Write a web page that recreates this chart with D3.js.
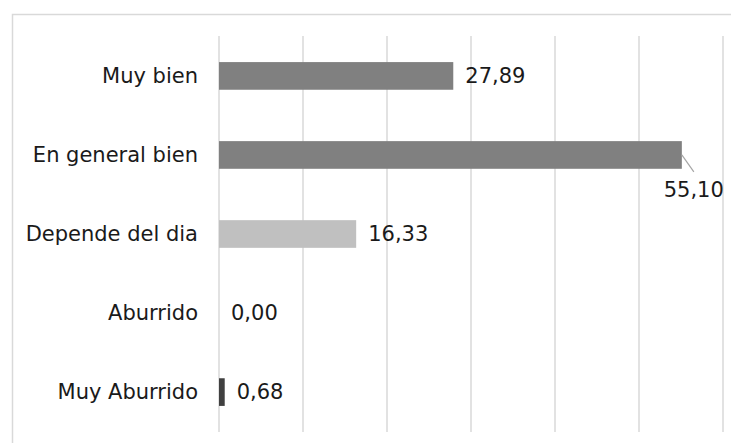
<!DOCTYPE html>
<html>
<head>
<meta charset="utf-8">
<script src="https://cdnjs.cloudflare.com/ajax/libs/d3/7.8.5/d3.min.js"></script>
<style>
body { margin:0; background:#fff; }
text { font-family: Verdana, "DejaVu Sans", sans-serif; fill:#1a1a1a; }
</style>
</head>
<body>
<svg></svg>
<script>
var categories = ["Muy bien","En general bien","Depende del dia","Aburrido","Muy Aburrido"]
var values = [27.89,55.10,16.33,0.00,0.68]
var labels = ["27,89","55,10","16,33","0,00","0,68"]
var colors = ["#808080","#808080","#c0c0c0","#404040","#404040"]
var ticks = [0,10,20,30,40,50,60]

var screen = {width:731,height:443}
var margins = {top:36,left:219,right:9,bottom:11}

var svg = d3.select("svg")
    .attr("width",screen.width)
    .attr("height",screen.height)

// chart frame
svg.append("rect")
    .attr("x",12.5)
    .attr("y",14.5)
    .attr("width",740)
    .attr("height",440)
    .attr("fill","none")
    .attr("stroke","#d9d9d9")
    .attr("stroke-width",1.5)

var xScale = d3.scaleLinear().domain([0,60]).range([margins.left,723])
var yScale = d3.scaleBand().domain(categories).range([margins.top,432]).paddingInner(0.65).paddingOuter(0.33)

var graph = svg.append("g").attr("id","graph")

graph.selectAll("line.grid")
    .data(ticks)
    .enter()
    .append("line")
    .classed("grid",true)
    .attr("x1",function(d){ return xScale(d) })
    .attr("x2",function(d){ return xScale(d) })
    .attr("y1",margins.top)
    .attr("y2",432)
    .attr("stroke","#d9d9d9")
    .attr("stroke-width",1.5)

graph.selectAll("rect.bar")
    .data(values)
    .enter()
    .append("rect")
    .classed("bar",true)
    .attr("x",xScale(0))
    .attr("y",function(d,i){ return yScale(categories[i]) })
    .attr("width",function(d){ return xScale(d)-xScale(0) })
    .attr("height",yScale.bandwidth())
    .attr("fill",function(d,i){ return colors[i] })

// category labels
graph.selectAll("text.cat")
    .data(categories)
    .enter()
    .append("text")
    .classed("cat",true)
    .attr("x",198)
    .attr("y",function(d){ return yScale(d)+yScale.bandwidth()/2 })
    .attr("dy","0.35em")
    .attr("text-anchor","end")
    .attr("font-size",21)
    .text(function(d){ return d })

// value labels, the long bar gets a leader line
graph.selectAll("text.val")
    .data(values)
    .enter()
    .append("text")
    .classed("val",true)
    .attr("x",function(d,i){ return i==1 ? xScale(d)+42 : xScale(d)+12 })
    .attr("y",function(d,i){
        var c = yScale(categories[i])+yScale.bandwidth()/2
        return i==1 ? c+35 : c
    })
    .attr("dy","0.35em")
    .attr("text-anchor",function(d,i){ return i==1 ? "end" : "start" })
    .attr("font-size",21)
    .text(function(d,i){ return labels[i] })

var c1 = yScale(categories[1])+yScale.bandwidth()/2
graph.append("line")
    .attr("x1",xScale(values[1]))
    .attr("y1",c1)
    .attr("x2",xScale(values[1])+12)
    .attr("y2",c1+17)
    .attr("stroke","#a6a6a6")
    .attr("stroke-width",1.2)
</script>
</body>
</html>
